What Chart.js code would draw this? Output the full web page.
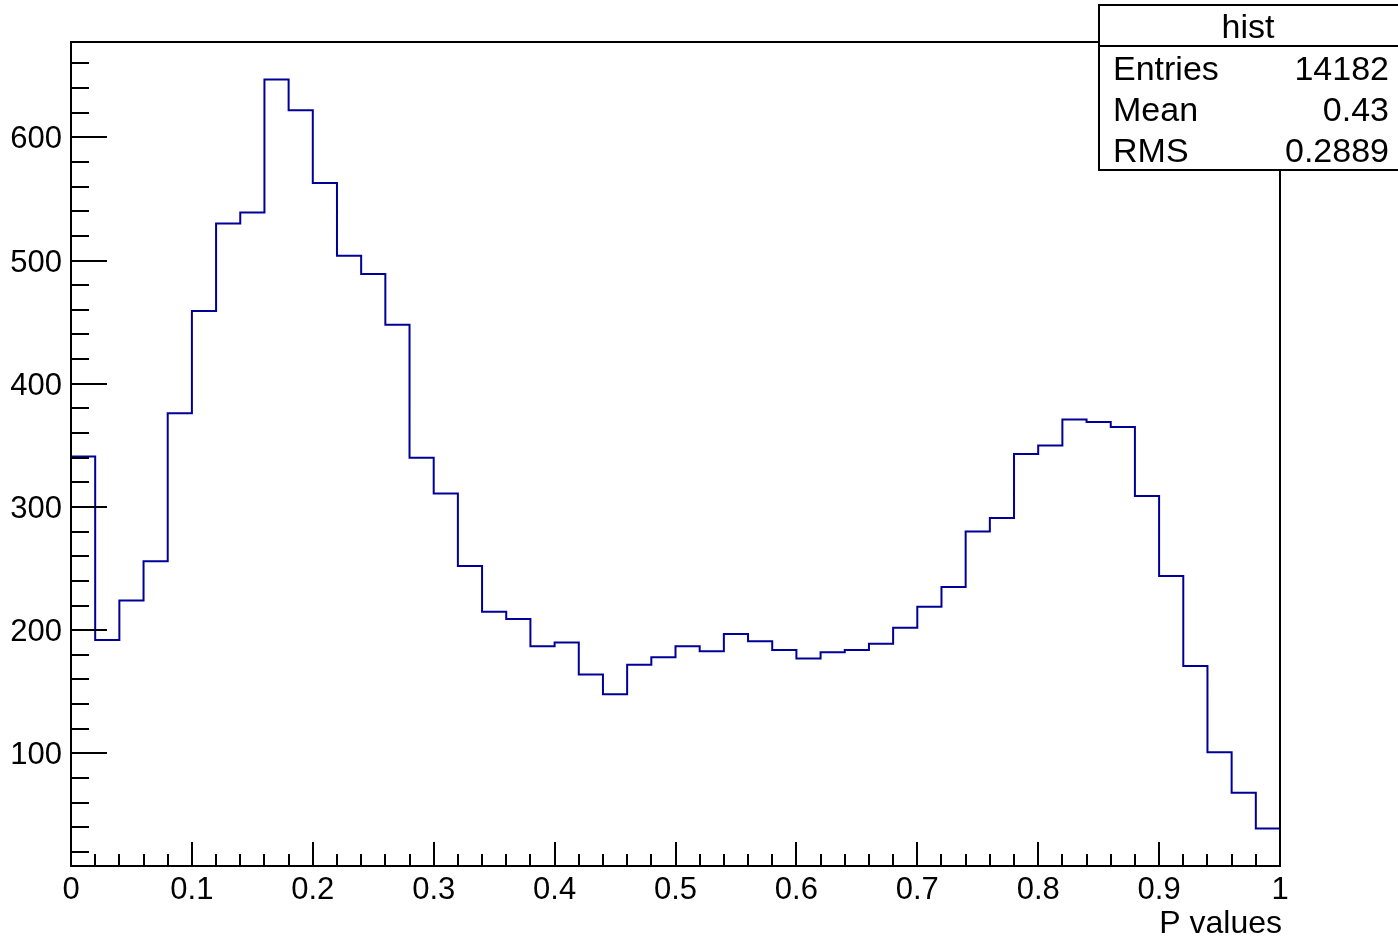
<!DOCTYPE html>
<html>
<head>
<meta charset="utf-8">
<title>hist</title>
<script src="https://cdn.jsdelivr.net/npm/chart.js@4/dist/chart.umd.min.js"></script>
<style>
  html, body { margin: 0; padding: 0; background: #fff; }
  #wrap { position: relative; width: 1398px; height: 940px; }
</style>
</head>
<body>
<div id="wrap"><canvas id="histChart" width="1398" height="940"></canvas></div>
<script>
// histograma de P values, 50 bins entre 0 y 1
const binLow = 0;
const binWidth = 0.02;
const counts = [
  341, 192, 224, 256, 376, 459, 530, 539, 647, 622,
  563, 504, 489, 448, 340, 311, 252, 215, 209, 187,
  190, 164, 148, 172, 178, 187, 183, 197, 191, 184,
  177, 182, 184, 189, 202, 219, 235, 280, 291, 343,
  350, 371, 369, 365, 309, 244, 171, 101, 68, 39
];
const xTickValues = [0, 0.1, 0.2, 0.3, 0.4, 0.5, 0.6, 0.7, 0.8, 0.9, 1];
const xTickLabels = ['0', '0.1', '0.2', '0.3', '0.4', '0.5', '0.6', '0.7', '0.8', '0.9', '1'];
const yTickValues = [100, 200, 300, 400, 500, 600];
const yTickLabels = ['100', '200', '300', '400', '500', '600'];
const xTitle = 'P values';
const statsTitle = 'hist';
const statsNames = ['Entries', 'Mean', 'RMS'];
const statsValues = ['14182', '0.43', '0.2889'];

const Y_MIN = 8.6, Y_MAX = 677.4;
const LINE = '#000099';
const FONT = '"Liberation Sans", Arial, Helvetica, sans-serif';

// puntos escalonados: borde izquierdo de cada bin + borde final
const points = counts.map((c, i) => ({ x: binLow + i * binWidth, y: c }));
points.push({ x: binLow + counts.length * binWidth, y: counts[counts.length - 1] });

const rootFrame = {
  id: 'rootFrame',
  afterDraw(chart) {
    const { ctx, chartArea: a, scales: { x, y } } = chart;
    ctx.save();
    ctx.strokeStyle = '#000';
    ctx.lineWidth = 2;
    ctx.lineCap = 'butt';

    // marco
    ctx.strokeRect(a.left, a.top, a.right - a.left, a.bottom - a.top);

    // ticks eje x (hacia adentro)
    ctx.beginPath();
    for (let i = 0; i <= 50; i++) {
      const px = Math.round(x.getPixelForValue(i * 0.02));
      const len = i % 5 === 0 ? 24 : 12;
      ctx.moveTo(px, a.bottom);
      ctx.lineTo(px, a.bottom - len);
    }
    // ticks eje y
    for (let v = 20; v <= 660; v += 20) {
      const py = Math.round(y.getPixelForValue(v));
      const len = v % 100 === 0 ? 36 : 18;
      ctx.moveTo(a.left, py);
      ctx.lineTo(a.left + len, py);
    }
    ctx.stroke();

    // etiquetas
    ctx.fillStyle = '#000';
    ctx.font = '31px ' + FONT;
    ctx.textBaseline = 'alphabetic';
    ctx.textAlign = 'center';
    xTickValues.forEach((v, i) => {
      ctx.fillText(xTickLabels[i], x.getPixelForValue(v), 899);
    });
    ctx.textAlign = 'right';
    yTickValues.forEach((v, i) => {
      ctx.fillText(yTickLabels[i], 62, y.getPixelForValue(v) + 11);
    });
    ctx.font = '32px ' + FONT;
    ctx.fillText(xTitle, 1282, 933);

    // caja de estadisticas
    const bx = 1099, by = 5, bw = 310, bh = 165;
    ctx.fillStyle = '#fff';
    ctx.fillRect(bx, by, bw, bh);
    ctx.strokeRect(bx, by, bw, bh);
    ctx.beginPath();
    ctx.moveTo(bx, 46);
    ctx.lineTo(bx + bw, 46);
    ctx.stroke();
    ctx.fillStyle = '#000';
    ctx.font = '34px ' + FONT;
    ctx.textAlign = 'center';
    ctx.fillText(statsTitle, 1248, 38);
    const rows = [80, 121, 162];
    statsNames.forEach((n, i) => {
      ctx.textAlign = 'left';
      ctx.fillText(n, 1113, rows[i]);
      ctx.textAlign = 'right';
      ctx.fillText(statsValues[i], 1389, rows[i]);
    });
    ctx.restore();
  }
};

new Chart(document.getElementById('histChart'), {
  type: 'line',
  data: {
    datasets: [{
      data: points,
      stepped: 'before',
      borderColor: LINE,
      borderWidth: 2,
      pointRadius: 0,
      fill: false
    }]
  },
  options: {
    responsive: false,
    animation: false,
    events: [],
    layout: { padding: { left: 71, top: 42, right: 118, bottom: 74 } },
    scales: {
      x: { type: 'linear', min: 0, max: 1, display: false },
      y: { type: 'linear', min: Y_MIN, max: Y_MAX, display: false }
    },
    plugins: { legend: { display: false }, tooltip: { enabled: false } }
  },
  plugins: [rootFrame]
});
</script>
</body>
</html>
